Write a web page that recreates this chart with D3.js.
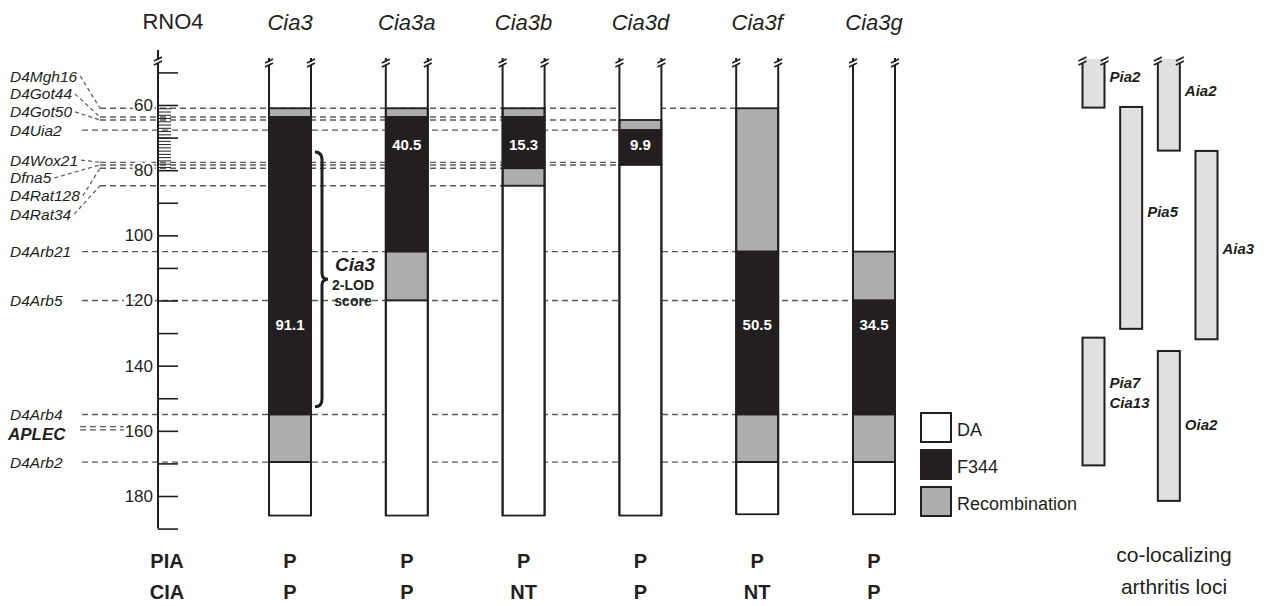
<!DOCTYPE html>
<html lang="en">
<head>
<meta charset="utf-8" />
<title>Cia3 congenic strains on RNO4</title>
<script src="https://d3js.org/d3.v7.min.js"></script>
<style>
    body { margin: 0; background: #fff; }
    svg { font-family: "Liberation Sans", Arial, sans-serif; }
    .marker { font-style: italic; font-size: 15.5px; fill: #231f20; }
    .guide { stroke: #5a5a5a; stroke-width: 1.4; stroke-dasharray: 6,4; fill: none; }
    .conn { stroke: #5a5a5a; stroke-width: 1.2; stroke-dasharray: 4,3; fill: none; }
    .ink { stroke: #231f20; }
    .ticklab { font-size: 17px; fill: #231f20; paint-order: stroke; stroke: #fff; stroke-width: 5px; }
    .head { font-size: 22px; fill: #231f20; }
    .seglab { font-size: 15px; font-weight: bold; fill: #fff; }
    .locus { font-size: 15px; font-weight: bold; font-style: italic; fill: #231f20; }
    .row { font-size: 20px; font-weight: bold; fill: #231f20; }
</style>
</head>
<body>
<svg width="1275" height="606"></svg>
<script>
    // strains and their genotype segments (cM along RNO4)
    var strains = ["Cia3", "Cia3a", "Cia3b", "Cia3d", "Cia3f", "Cia3g"];
    var segments = [
        // [strain, from cM, to cM, genotype]  open = DA region with no upper edge
        ["Cia3", 61, 63.7, "rec"], ["Cia3", 63.7, 155, "F344"], ["Cia3", 155, 169.6, "rec"], ["Cia3", 169.6, 186, "DA"],
        ["Cia3a", 61, 63.7, "rec"], ["Cia3a", 63.7, 105, "F344"], ["Cia3a", 105, 120, "rec"], ["Cia3a", 120, 186, "DA"],
        ["Cia3b", 61, 63.7, "rec"], ["Cia3b", 63.7, 79.4, "F344"], ["Cia3b", 79.4, 84.8, "rec"], ["Cia3b", 84.8, 186, "DA"],
        ["Cia3d", null, 64.6, "open"], ["Cia3d", 64.6, 67.7, "rec"], ["Cia3d", 67.7, 78.4, "F344"], ["Cia3d", 78.4, 186, "DA"],
        ["Cia3f", 61, 105, "rec"], ["Cia3f", 105, 155, "F344"], ["Cia3f", 155, 169.6, "rec"], ["Cia3f", 169.6, 185.6, "DA"],
        ["Cia3g", null, 105, "open"], ["Cia3g", 105, 120, "rec"], ["Cia3g", 120, 155, "F344"], ["Cia3g", 155, 169.6, "rec"], ["Cia3g", 169.6, 185.6, "DA"]
    ];
    var congenicSizes = ["91.1", "40.5", "15.3", "9.9", "50.5", "34.5"];
    var sizeLabelAt = [127.5, 72.3, 72.3, 72.3, 127.5, 127.5];
    var piaResult = ["P", "P", "P", "P", "P", "P"];
    var ciaResult = ["P", "P", "NT", "P", "NT", "P"];

    // markers: name, cM, label position (cM), last strain the guide reaches
    var markerNames = ["D4Mgh16", "D4Got44", "D4Got50", "D4Uia2", "D4Wox21", "Dfna5", "D4Rat128", "D4Rat34",
        "D4Arb21", "D4Arb5", "D4Arb4", "APLEC", "D4Arb2"];
    var markerPos = [61, 63.7, 64.6, 67.7, 77.6, 78.4, 79.4, 84.8, 105, 120, 155, 159.2, 169.6];
    var markerLabelAt = [51.1, 56.6, 62.1, 67.7, 76.9, 82.4, 87.9, 93.5, 105, 120, 155, 161.0, 169.6];
    var markerReach = ["Cia3f", "Cia3b", "Cia3d", "Cia3d", "Cia3d", "Cia3d", "Cia3b", "Cia3b",
        "Cia3g", "Cia3g", "Cia3g", null, "Cia3g"];

    var ticksMajor = d3.range(50, 191, 10);
    var ticksMinor = d3.range(61, 80, 1);
    var tickLabels = d3.range(60, 181, 20);

    var lodInterval = [74.4, 152.6];

    // co-localizing loci
    var lociNames = ["Pia2", "Aia2", "Pia5", "Aia3", "Pia7|Cia13", "Oia2"];
    var lociFrom = [null, null, 60.6, 74.1, 131.4, 135.5];
    var lociTo = [60.8, 74.0, 128.7, 131.9, 170.6, 181.5];
    var lociCol = [0, 2, 1, 3, 0, 2];
    var lociLabelAt = [51.4, 55.6, 92.8, 104.3, 145.3, 158.3];

    var legendKeys = ["DA", "F344", "rec"];
    var legendNames = ["DA", "F344", "Recombination"];

    var fills = { DA: "#ffffff", open: "#ffffff", F344: "#231f20", rec: "#adadad" };

    var svg = d3.select("svg");
    var y = d3.scaleLinear().domain([60, 180]).range([105, 496]);
    var x = d3.scalePoint().domain(strains).range([290, 874]);
    var barW = 42;
    var axisX = 158;
    var topCut = y.invert(58);

    // guide lines behind everything
    var guides = svg.append("g");
    markerNames.forEach(function (m, i) {
        var yy = y(markerPos[i]);
        var x0 = markerLabelAt[i] === markerPos[i] ? 82 : 100;
        var x1 = markerReach[i] ? x(markerReach[i]) - barW / 2 : axisX - 4;
        if (m === "APLEC") {
            [-0.5, 0.5].forEach(function (d) {
                guides.append("line").attr("class", "guide")
                    .attr("x1", 80).attr("x2", x1).attr("y1", y(markerPos[i] + d)).attr("y2", y(markerPos[i] + d));
            });
            return;
        }
        guides.append("line").attr("class", "guide")
            .attr("x1", x0).attr("x2", x1).attr("y1", yy).attr("y2", yy);
    });

    // marker labels and connectors
    var mg = svg.append("g");
    markerNames.forEach(function (m, i) {
        var ly = y(markerLabelAt[i]);
        var t = mg.append("text").attr("class", "marker")
            .attr("x", 10).attr("y", ly + 5.5).text(m);
        if (m === "APLEC") t.style("font-weight", "bold").style("font-size", "17px").attr("x", 8);
        if (markerLabelAt[i] !== markerPos[i] && m !== "APLEC") {
            var w = t.node().getComputedTextLength();
            mg.append("line").attr("class", "conn")
                .attr("x1", 10 + w + 3).attr("y1", ly)
                .attr("x2", 100).attr("y2", y(markerPos[i]));
        }
    });

    // chromosome axis
    var ax = svg.append("g");
    ax.append("line").attr("class", "ink").attr("stroke-width", 2)
        .attr("x1", axisX).attr("x2", axisX).attr("y1", 50).attr("y2", y(190));
    ax.append("g").attr("transform", "translate(" + axisX + ",0)")
        .call(d3.axisRight(y).tickValues(ticksMajor).tickSize(20).tickSizeOuter(0).tickFormat(""))
        .call(function (g) { g.select(".domain").remove(); g.selectAll("line").attr("stroke", "#231f20").attr("stroke-width", 1.6); });
    ax.append("g").attr("transform", "translate(" + axisX + ",0)")
        .call(d3.axisRight(y).tickValues(ticksMinor).tickSize(13).tickSizeOuter(0).tickFormat(""))
        .call(function (g) { g.select(".domain").remove(); g.selectAll("line").attr("stroke", "#231f20").attr("stroke-width", 1); });
    ax.append("g").attr("transform", "translate(" + (axisX - 5) + ",0)")
        .call(d3.axisLeft(y).tickValues(tickLabels).tickSize(0).tickPadding(0))
        .call(function (g) {
            g.select(".domain").remove();
            g.selectAll("text").attr("class", "ticklab").attr("font-family", null).attr("font-size", null).attr("fill", null);
        });

    // strain bars
    var bars = svg.append("g");
    strains.forEach(function (s, i) {
        var segs = segments.filter(function (d) { return d[0] === s; });
        var cx = x(s), bottom = d3.max(segs, function (d) { return d[2]; });
        segs.forEach(function (d) {
            var y0 = d[1] === null ? y(topCut) : y(d[1]);
            bars.append("rect")
                .attr("x", cx - barW / 2).attr("y", y0)
                .attr("width", barW).attr("height", y(d[2]) - y0)
                .attr("fill", fills[d[3]])
                .attr("stroke", d[3] === "open" ? "none" : "#231f20")
                .attr("stroke-width", 1.8);
        });
        [-1, 1].forEach(function (side) {
            var sx = cx + side * barW / 2;
            bars.append("line").attr("class", "ink").attr("stroke-width", 2)
                .attr("x1", sx).attr("x2", sx).attr("y1", y(topCut)).attr("y2", y(bottom));
        });
        bars.append("text").attr("class", "head").attr("text-anchor", "middle")
            .style("font-style", "italic")
            .attr("x", cx).attr("y", 30).text(s);
        bars.append("text").attr("class", "seglab").attr("text-anchor", "middle")
            .attr("x", cx).attr("y", y(sizeLabelAt[i]) + 5).text(congenicSizes[i]);
        bars.append("text").attr("class", "row").attr("text-anchor", "middle")
            .attr("x", cx).attr("y", 568).text(piaResult[i]);
        bars.append("text").attr("class", "row").attr("text-anchor", "middle")
            .attr("x", cx).attr("y", 599).text(ciaResult[i]);
    });

    // break marks on open ends
    function breakMark(g, bx, by) {
        g.append("line").attr("stroke", "#fff").attr("stroke-width", 3)
            .attr("x1", bx).attr("x2", bx).attr("y1", by - 1).attr("y2", by + 2);
        [-2, 2].forEach(function (o) {
            g.append("line").attr("class", "ink").attr("stroke-width", 1.6)
                .attr("x1", bx - 4).attr("y1", by + o + 2).attr("x2", bx + 4).attr("y2", by + o - 2);
        });
    }
    var breaks = svg.append("g");
    strains.forEach(function (s) {
        breakMark(breaks, x(s) - barW / 2, 63);
        breakMark(breaks, x(s) + barW / 2, 63);
    });
    breakMark(breaks, axisX, 61);

    svg.append("text").attr("class", "head").attr("text-anchor", "middle")
        .attr("x", 173).attr("y", 29).text("RNO4");

    // 2-LOD brace
    var bx = x("Cia3") + barW / 2 + 4, by0 = y(lodInterval[0]), by1 = y(lodInterval[1]);
    var bm = (by0 + by1) / 2;
    svg.append("path").attr("fill", "none").attr("class", "ink").attr("stroke-width", 3)
        .attr("d", "M" + bx + "," + by0 + " Q" + (bx + 7) + "," + by0 + " " + (bx + 7) + "," + (by0 + 8) +
            " L" + (bx + 7) + "," + (bm - 6) + " Q" + (bx + 7) + "," + bm + " " + (bx + 13) + "," + bm +
            " Q" + (bx + 7) + "," + bm + " " + (bx + 7) + "," + (bm + 6) +
            " L" + (bx + 7) + "," + (by1 - 8) + " Q" + (bx + 7) + "," + by1 + " " + bx + "," + by1);
    var lodG = svg.append("g").attr("text-anchor", "middle").attr("fill", "#231f20").style("font-weight", "bold");
    lodG.append("text").attr("x", bx + 40).attr("y", bm - 8).style("font-size", "19px").style("font-style", "italic").text("Cia3");
    lodG.append("text").attr("x", bx + 38).attr("y", bm + 11).style("font-size", "14px").text("2-LOD");
    lodG.append("text").attr("x", bx + 38).attr("y", bm + 27).style("font-size", "14px").text("score");

    // legend
    var lg = svg.append("g").attr("transform", "translate(921,413)");
    legendKeys.forEach(function (k, i) {
        lg.append("rect").attr("x", 0).attr("y", i * 37).attr("width", 30).attr("height", 29)
            .attr("fill", fills[k]).attr("stroke", "#231f20").attr("stroke-width", 2);
        lg.append("text").attr("x", 36).attr("y", i * 37 + 23).style("font-size", "18px")
            .attr("fill", "#231f20").text(legendNames[i]);
    });

    // co-localizing loci
    var lx = d3.scalePoint().domain([0, 1, 2, 3]).range([1093.5, 1206.5]);
    var lw = 22;
    var lociG = svg.append("g");
    lociNames.forEach(function (n, i) {
        var cx = lx(lociCol[i]);
        var y0 = lociFrom[i] === null ? y(topCut) : y(lociFrom[i]);
        lociG.append("rect").attr("x", cx - lw / 2).attr("y", y0).attr("width", lw).attr("height", y(lociTo[i]) - y0)
            .attr("fill", "#e0e0e0").attr("stroke", "#231f20").attr("stroke-width", 2);
        if (lociFrom[i] === null) {
            lociG.append("rect").attr("x", cx - lw / 2 - 2).attr("y", y0 - 3).attr("width", lw + 4).attr("height", 4).attr("fill", "#fff");
            breakMark(lociG, cx - lw / 2, y0 + 3);
            breakMark(lociG, cx + lw / 2, y0 + 3);
        }
        n.split("|").forEach(function (part, j) {
            lociG.append("text").attr("class", "locus")
                .attr("x", cx + lw / 2 + 5).attr("y", y(lociLabelAt[i]) + 5 + j * 20).text(part);
        });
    });

    svg.append("text").attr("class", "row").attr("text-anchor", "middle").attr("x", 167).attr("y", 568).text("PIA");
    svg.append("text").attr("class", "row").attr("text-anchor", "middle").attr("x", 167).attr("y", 599).text("CIA");
    svg.append("text").attr("text-anchor", "middle").attr("x", 1174).attr("y", 562)
        .style("font-size", "21px").attr("fill", "#231f20").text("co-localizing");
    svg.append("text").attr("text-anchor", "middle").attr("x", 1174).attr("y", 594)
        .style("font-size", "21px").attr("fill", "#231f20").text("arthritis loci");
</script>
</body>
</html>
